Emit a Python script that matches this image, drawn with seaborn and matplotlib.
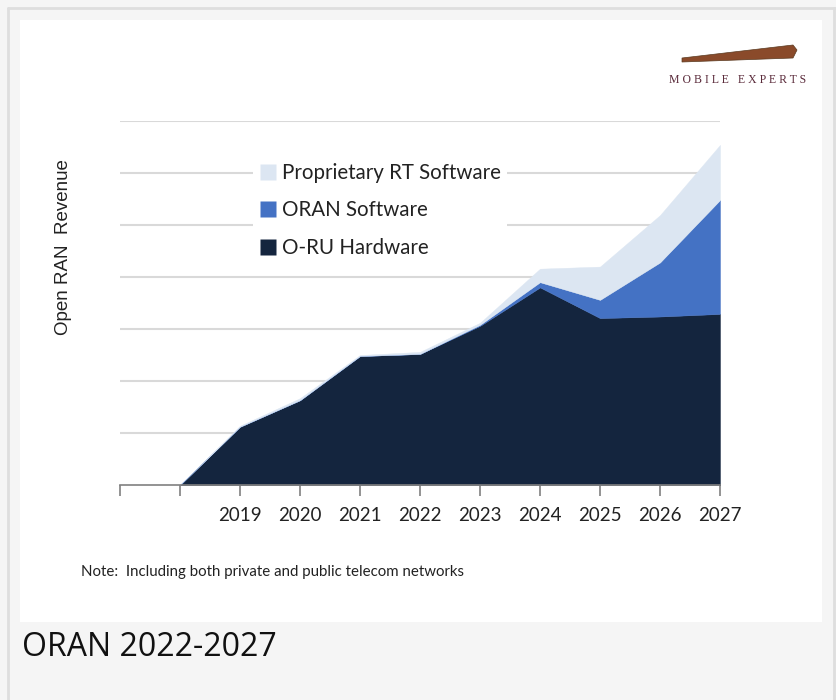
import matplotlib
matplotlib.use("Agg")
import matplotlib.pyplot as plt
import matplotlib.patches as mpatches
from matplotlib.lines import Line2D
import seaborn as sns
import numpy as np

# values (arbitrary units, one gridline = 1)
years = ["", "2019", "2020", "2021", "2022", "2023", "2024", "2025", "2026", "2027"]
hardware = [0, 1.12, 1.63, 2.48, 2.52, 3.06, 3.80, 3.21, 3.24, 3.29]
oran_sw = [0, 0, 0, 0, 0, 0.02, 0.10, 0.35, 1.04, 2.19]
proprietary = [0, 0.02, 0.04, 0.02, 0.04, 0.04, 0.26, 0.64, 0.91, 1.06]
series_names = ["O-RU Hardware", "ORAN Software", "Proprietary RT Software"]
colors = ["#14253e", "#4472c4", "#dce6f2"]

sns.set_theme(style="white")
plt.rcParams["font.family"] = ["Lato", "DejaVu Sans"]

W, H = 836, 700
fig = plt.figure(figsize=(W / 100, H / 100), dpi=100, facecolor="#f5f5f5")

# page frame
fig.patches.append(mpatches.Rectangle((20 / W, 1 - 622 / H), 802 / W, 602 / H,
                                      transform=fig.transFigure, facecolor="white",
                                      edgecolor="none", zorder=-5))
fig.add_artist(Line2D([8 / W, 8 / W], [0, 1 - 8 / H], transform=fig.transFigure,
                      color="#dedede", lw=2, zorder=-4))
fig.add_artist(Line2D([8 / W, 1], [1 - 8 / H, 1 - 8 / H], transform=fig.transFigure,
                      color="#dedede", lw=2, zorder=-4))
fig.add_artist(Line2D([834 / W, 834 / W], [0, 1 - 8 / H], transform=fig.transFigure,
                      color="#dedede", lw=2, zorder=-4))

ax = fig.add_axes([120 / W, 1 - 485 / H, 600 / W, 364 / H])
ax.set_zorder(1)
ax.set_facecolor("none")
x = np.arange(len(years))
ax.stackplot(x, hardware, oran_sw, proprietary, colors=colors, zorder=2,
             edgecolor="face", linewidth=0.3)

ax.set_xlim(-1, len(years) - 1)
ax.set_ylim(0, 7)
ax.set_yticks(np.arange(1, 8))
ax.yaxis.grid(True, color="#d9d9d9", lw=1.5, zorder=1)
ax.set_axisbelow(True)
ax.tick_params(axis="y", left=False, labelleft=False)
ax.set_xticks(np.arange(-1, len(years)))
ax.set_xticklabels([""] + years, fontsize=13.5, color="#222222")
ax.tick_params(axis="x", bottom=True, direction="out", length=8, width=1.2,
               color="#808080", pad=8)
for s in ["top", "right", "left"]:
    ax.spines[s].set_visible(False)
ax.spines["bottom"].set_color("#808080")
ax.spines["bottom"].set_linewidth(1.2)

fig.text(64 / W, 1 - 247 / H, "Open RAN  Revenue", fontsize=13.5,
         family="Liberation Sans", color="#222222", rotation=90,
         ha="center", va="center")

handles = [Line2D([], [], marker="s", linestyle="none", markersize=11,
                  markerfacecolor=colors[i], markeredgecolor="none")
           for i in [2, 1, 0]]
labels = [series_names[i] for i in [2, 1, 0]]
leg = ax.legend(handles, labels, loc="upper left", bbox_to_anchor=(0.222, 0.902),
                frameon=True, fontsize=14.8, labelspacing=0.85, handlelength=0.8,
                handletextpad=0.3, borderpad=0.3, borderaxespad=0)
leg.get_frame().set_facecolor("white")
leg.get_frame().set_edgecolor("none")
leg.get_frame().set_alpha(1)
for t in leg.get_texts():
    t.set_color("#222222")

# logo
tel = mpatches.Polygon([(682 / W, 1 - 58 / H), (793 / W, 1 - 45 / H),
                        (797 / W, 1 - 50 / H), (793 / W, 1 - 58 / H),
                        (682 / W, 1 - 62 / H)], closed=True, transform=fig.transFigure,
                       facecolor="#8a4a2a", edgecolor="#5a3a20", lw=0.5)
fig.patches.append(tel)
fig.text(738 / W, 1 - 80 / H, "M O B I L E   E X P E R T S", fontsize=8.5,
         family="Liberation Serif", color="#5a2a3a", ha="center", va="center")

fig.text(81 / W, 1 - 572 / H, "Note:  Including both private and public telecom networks",
         fontsize=10.8, color="#222222", ha="left", va="center")
fig.text(22 / W, 1 - 648 / H, "ORAN 2022-2027", fontsize=23, family=["Open Sans", "Lato"],
         color="#111111", ha="left", va="center")

fig.savefig("out.png", dpi=100, facecolor=fig.get_facecolor())
